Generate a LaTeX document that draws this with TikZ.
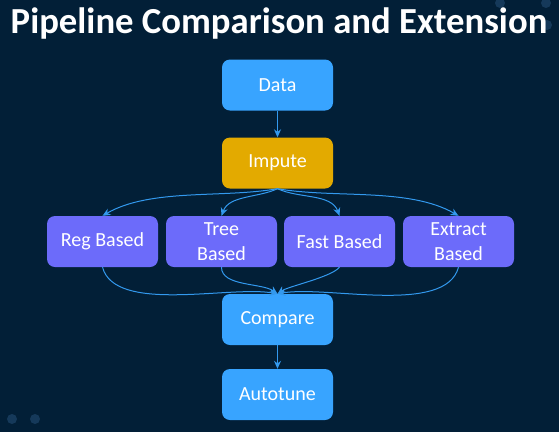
\documentclass[tikz,border=0pt]{standalone}
\usepackage{fontspec}
\setmainfont{Carlito}
\usepackage{tikz}
\usetikzlibrary{arrows.meta,positioning}
\usepackage{xcolor}

\definecolor{bgnavy}{HTML}{021F37}
\definecolor{dotnavy}{HTML}{15395A}
\definecolor{stepblue}{HTML}{38A4FF}
\definecolor{stepgold}{HTML}{E3AA00}
\definecolor{steppurple}{HTML}{6C6BFA}
\definecolor{flowblue}{HTML}{3399EE}

\begin{document}
\begin{tikzpicture}[x=1pt,y=-1pt]
	\fill[bgnavy] (0,0) rectangle (559,432);
	\useasboundingbox (0,0) rectangle (559,432);
	% dots in the corners
	\fill[dotnavy] (500,3) circle (5) (546,3) circle (5) (547,25) circle (5);
	\fill[dotnavy] (12,419) circle (5) (35,419) circle (5);
	\node[anchor=base,text=white,font=\fontsize{36.7}{40}\selectfont\bfseries] (title) at (279,33) {Pipeline Comparison and Extension};
	\begin{scope}[every node/.style={rectangle,rounded corners=8pt,align=center,text=white,minimum width=111pt,minimum height=51pt,inner sep=0pt,font=\fontsize{20}{25}\selectfont}]
		\node[fill=stepblue] (data) at (277.5,85) {Data};
		\node[fill=stepgold] (impute) at (277.5,163) {Impute};
		\node[fill=steppurple] (reg) at (102.5,241.5) {Reg Based};
		\node[fill=steppurple] (tree) at (221.5,241.5) {Tree\\Based};
		\node[fill=steppurple] (fast) at (339.5,241.5) {Fast Based};
		\node[fill=steppurple] (extract) at (458.5,241.5) {Extract\\Based};
		\node[fill=stepblue] (compare) at (277.5,319.5) {Compare};
		\node[fill=stepblue] (autotune) at (277.5,394.5) {Autotune};
	\end{scope}
	\begin{scope}[every path/.style={draw=flowblue,line width=1pt,-{Stealth[length=8pt,width=7pt]}}]
		\draw (data) -- (impute);
		\draw (impute.south) to[out=190,in=30,looseness=0.8] (reg.north);
		\draw (impute.south) to[out=205,in=70,looseness=0.9] (tree.north);
		\draw (impute.south) to[out=-25,in=110,looseness=0.9] (fast.north);
		\draw (impute.south) to[out=-10,in=150,looseness=0.8] (extract.north);
		\draw (reg.south) to[out=-75,in=170,looseness=0.7] (compare.north);
		\draw (tree.south) to[out=-90,in=145,looseness=0.8] (compare.north);
		\draw (fast.south) to[out=-130,in=35,looseness=0.5] (compare.north);
		\draw (extract.south) to[out=-105,in=10,looseness=0.7] (compare.north);
		\draw (compare) -- (autotune);
	\end{scope}
\end{tikzpicture}
\end{document}
